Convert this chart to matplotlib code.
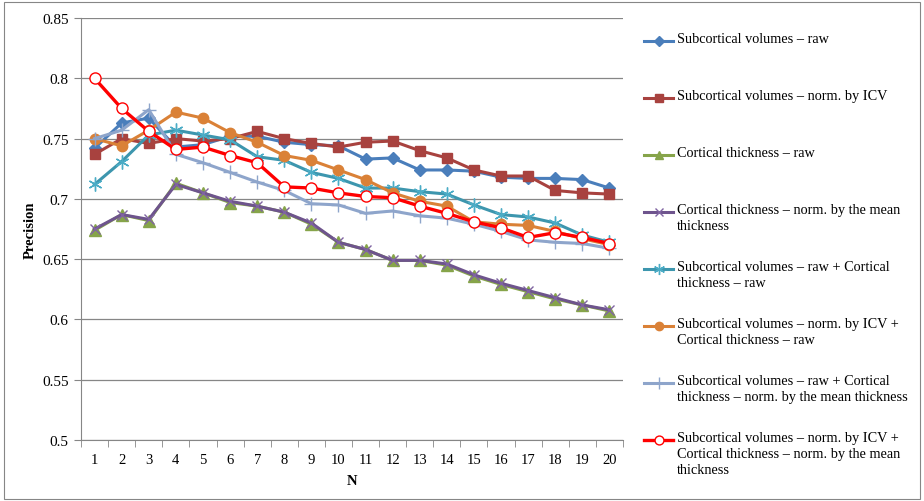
import matplotlib
matplotlib.use("Agg")
import matplotlib.pyplot as plt
from matplotlib.lines import Line2D
from matplotlib.patches import Rectangle
import numpy as np

plt.rcParams['font.family'] = ['Liberation Serif', 'DejaVu Serif']

n = list(range(1, 21))

sub_raw = [0.742, 0.763, 0.767, 0.743, 0.745, 0.752, 0.752, 0.747, 0.745, 0.744,
           0.733, 0.734, 0.724, 0.724, 0.723, 0.718, 0.717, 0.717, 0.716, 0.709]
sub_icv = [0.737, 0.750, 0.746, 0.750, 0.748, 0.750, 0.756, 0.750, 0.746, 0.743,
           0.747, 0.748, 0.740, 0.734, 0.724, 0.719, 0.719, 0.707, 0.705, 0.704]
ct_raw = [0.674, 0.687, 0.682, 0.713, 0.705, 0.697, 0.694, 0.689, 0.679, 0.664,
          0.658, 0.649, 0.649, 0.645, 0.636, 0.629, 0.623, 0.617, 0.612, 0.607]
ct_mean = [0.675, 0.687, 0.683, 0.712, 0.705, 0.698, 0.694, 0.689, 0.680, 0.664,
           0.658, 0.649, 0.649, 0.646, 0.637, 0.630, 0.624, 0.618, 0.612, 0.608]
sub_raw_ct_raw = [0.712, 0.731, 0.753, 0.757, 0.753, 0.749, 0.735, 0.732, 0.722, 0.717,
                  0.709, 0.709, 0.706, 0.704, 0.695, 0.687, 0.685, 0.680, 0.670, 0.664]
sub_icv_ct_raw = [0.750, 0.744, 0.757, 0.772, 0.767, 0.755, 0.747, 0.736, 0.732, 0.724,
                  0.716, 0.705, 0.698, 0.694, 0.681, 0.679, 0.678, 0.673, 0.667, 0.662]
sub_raw_ct_mean = [0.750, 0.757, 0.774, 0.737, 0.730, 0.722, 0.714, 0.707, 0.696, 0.695,
                   0.688, 0.690, 0.686, 0.684, 0.679, 0.673, 0.666, 0.664, 0.663, 0.659]
sub_icv_ct_mean = [0.800, 0.775, 0.756, 0.741, 0.743, 0.736, 0.730, 0.710, 0.709, 0.705,
                   0.702, 0.701, 0.694, 0.688, 0.681, 0.676, 0.668, 0.672, 0.668, 0.663]

labels = [
    "Subcortical volumes \u2013 raw",
    "Subcortical volumes \u2013 norm. by ICV",
    "Cortical thickness \u2013 raw",
    "Cortical thickness \u2013 norm. by the mean\nthickness",
    "Subcortical volumes \u2013 raw + Cortical\nthickness \u2013 raw",
    "Subcortical volumes \u2013 norm. by ICV +\nCortical thickness \u2013 raw",
    "Subcortical volumes \u2013 raw + Cortical\nthickness \u2013 norm. by the mean thickness",
    "Subcortical volumes \u2013 norm. by ICV +\nCortical thickness \u2013 norm. by the mean\nthickness",
]
series = [sub_raw, sub_icv, ct_raw, ct_mean, sub_raw_ct_raw, sub_icv_ct_raw,
          sub_raw_ct_mean, sub_icv_ct_mean]

styles = [
    dict(color='#4A7EBB', marker='D', ms=6, mfc='#4A7EBB', mec='#4A7EBB', lw=2.2),
    dict(color='#A8423F', marker='s', ms=7.5, mfc='#A8423F', mec='#A8423F', lw=2.2),
    dict(color='#86A44A', marker='^', ms=8, mfc='#86A44A', mec='#86A44A', lw=2.2),
    dict(color='#6E548D', marker='x', ms=7, mfc='#6E548D', mec='#8064A2', mew=1.0, lw=2.2),
    dict(color='#3D96AE', marker=(6, 2, 0), ms=10, mec='#4BACC6', mew=1.0, lw=2.2),
    dict(color='#DA8137', marker='o', ms=7.5, mfc='#DA8137', mec='#DA8137', lw=2.2),
    dict(color='#8EA5CB', marker='+', ms=10, mec='#8EA5CB', mew=1.0, lw=2.2),
    dict(color='#FF0000', marker='o', ms=8, mfc='white', mec='#FF0000', mew=1.0, lw=2.4),
]

fig = plt.figure(figsize=(9.24, 5.02), dpi=100)
ax = fig.add_axes([0.0877, 0.1215, 0.5865, 0.8405])

for vals, st in zip(series, styles):
    ax.plot(n, vals, **st)

ax.set_xlim(0.5, 20.5)
ax.set_ylim(0.5, 0.85)
ax.set_yticks(np.arange(0.5, 0.851, 0.05))
ax.set_yticklabels(['0.5', '0.55', '0.6', '0.65', '0.7', '0.75', '0.8', '0.85'])
ax.set_xticks(n)
ax.set_xticks(np.arange(0.5, 20.6, 1), minor=True)
ax.tick_params(axis='x', which='major', length=0, pad=9, labelsize=10.5)
ax.tick_params(axis='x', which='minor', length=5, color='#868686', direction='out')
ax.tick_params(axis='y', length=5, color='#868686', direction='out', labelsize=11, pad=4)
ax.grid(axis='y', color='#868686', lw=0.9)
ax.set_axisbelow(True)
for s in ['top', 'right']:
    ax.spines[s].set_visible(False)
for s in ['left', 'bottom']:
    ax.spines[s].set_color('#868686')
ax.set_ylabel('Precision', fontsize=10.5, fontweight='bold', labelpad=4)
ax.set_xlabel('N', fontsize=10.5, fontweight='bold', labelpad=6)

# legend on the right, one entry per series
y0 = 1 - 42 / 502
pitch = 57 / 502
for i, (lab, st) in enumerate(zip(labels, styles)):
    y = y0 - i * pitch
    line_kw = {k: v for k, v in st.items() if k not in ('marker', 'ms', 'mew', 'mfc', 'mec')}
    fig.add_artist(Line2D([644 / 924, 673 / 924], [y, y], transform=fig.transFigure, **line_kw))
    mk = {k: v for k, v in st.items() if k != 'lw'}
    mk['ms'] = st['ms'] * 0.8
    fig.add_artist(Line2D([658.5 / 924], [y], transform=fig.transFigure, ls='none', **mk))
    fig.text(677 / 924, y + 9 / 502, lab, fontsize=10.3, va='top', ha='left',
             linespacing=1.3)

fig.add_artist(Rectangle((0.004, 0.004), 0.992, 0.99, transform=fig.transFigure,
                         fill=False, ec='#868686', lw=0.8))

fig.savefig('out.png', dpi=100)
